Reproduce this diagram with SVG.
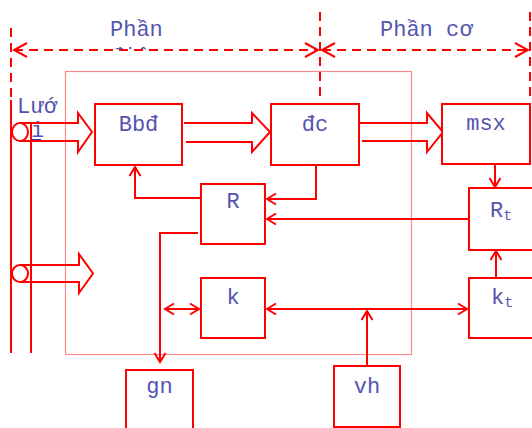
<svg xmlns="http://www.w3.org/2000/svg" width="532" height="428" viewBox="0 0 532 428">
  <style>
    .box { fill: #ffffff; stroke: #ff0000; stroke-width: 2; }
    .ln { fill: none; stroke: #ff0000; stroke-width: 2; }
    .dash { fill: none; stroke: #ff0000; stroke-width: 2; stroke-dasharray: 9 6; }
    .frame { fill: none; stroke: #ff8a8a; stroke-width: 1.2; }
    .blk { fill: none; stroke: #ff0000; stroke-width: 2; stroke-linejoin: miter; }
    .t { font-family: "Liberation Mono", "Courier New", monospace; font-size: 22px; fill: #5555b0; }
    .c { text-anchor: middle; }
    .sub { font-size: 15px; }
  </style>
  <defs>
    <marker id="ah" markerUnits="userSpaceOnUse" markerWidth="12" markerHeight="14" viewBox="0 0 12 14" refX="10" refY="7" orient="auto-start-reverse">
      <path d="M1,1.5 L10,7 L1,12.5" fill="none" stroke="#ff0000" stroke-width="2"/>
    </marker>
    <marker id="dh" markerUnits="userSpaceOnUse" markerWidth="16" markerHeight="18" viewBox="0 0 16 18" refX="14" refY="9" orient="auto-start-reverse">
      <path d="M1,2 L14,9 L1,16" fill="none" stroke="#ff0000" stroke-width="2"/>
    </marker>
    <clipPath id="cutline">
      <rect x="100" y="40" width="80" height="9.5"/>
    </clipPath>
  </defs>

  <!-- section boundaries and headings -->
  <g id="sections">
    <line class="dash" x1="11" y1="28" x2="11" y2="100"/>
    <line class="dash" x1="320" y1="12" x2="320" y2="100"/>
    <line class="dash" x1="530" y1="12" x2="530" y2="100"/>
    <line class="dash" x1="14" y1="50" x2="318" y2="50" marker-start="url(#dh)" marker-end="url(#dh)"/>
    <line class="dash" x1="322" y1="50" x2="528" y2="50" marker-start="url(#dh)" marker-end="url(#dh)"/>
    <text class="t" x="110" y="36">Phần</text>
    <text class="t" x="110" y="63" clip-path="url(#cutline)">điện</text>
    <text class="t" x="380" y="36">Phần cơ</text>
  </g>

  <!-- enclosing frame of the electrical part -->
  <rect class="frame" x="65.5" y="71.5" width="346" height="283"/>

  <!-- supply lines -->
  <g id="luoi">
    <line class="ln" x1="11" y1="100" x2="11" y2="353"/>
    <line class="ln" x1="31" y1="123" x2="31" y2="353"/>
    <ellipse class="ln" cx="20" cy="132" rx="8" ry="9"/>
    <ellipse class="ln" cx="20" cy="273.5" rx="8" ry="8.5"/>
    <text class="t" x="17" y="113">Lướ</text>
    <text class="t" x="31" y="137">i</text>
    <line x1="32" y1="139.5" x2="41" y2="139.5" stroke="#3030a0" stroke-width="1"/>
  </g>

  <!-- power flow (hollow arrows) -->
  <g id="power">
    <path class="blk" d="M20,123 H78 V113 L92,132 L78,152 V141 H20"/>
    <path class="blk" d="M20,265 H79 V254 L93,273.5 L79,293 V282 H20"/>
    <path class="blk" d="M184,123 H252 V113 L270,132 L252,152 V142 H186"/>
    <path class="blk" d="M360,123 H427 V113 L443,132 L427,152 V141 H362"/>
  </g>

  <g id="Bbd">
    <rect class="box" x="95" y="104" width="87" height="61"/>
    <text class="t c" x="138.5" y="131">Bbđ</text>
  </g>
  <g id="dc">
    <rect class="box" x="271" y="104" width="88" height="61"/>
    <text class="t c" x="315" y="131">đc</text>
  </g>
  <g id="msx">
    <rect class="box" x="442" y="104" width="88" height="60"/>
    <text class="t c" x="486" y="130">msx</text>
  </g>
  <g id="R">
    <rect class="box" x="201" y="184" width="64" height="60"/>
    <text class="t c" x="233" y="208">R</text>
  </g>
  <g id="k">
    <rect class="box" x="201" y="278" width="64" height="60"/>
    <text class="t c" x="233" y="304">k</text>
  </g>
  <g id="Rt">
    <rect class="box" x="469" y="188" width="70" height="62"/>
    <text class="t" x="490" y="217">R<tspan class="sub" dy="3">t</tspan></text>
  </g>
  <g id="kt">
    <rect class="box" x="469" y="278" width="70" height="60"/>
    <text class="t" x="491" y="304">k<tspan class="sub" dy="3">t</tspan></text>
  </g>
  <g id="gn">
    <rect class="box" x="126" y="370" width="67" height="70"/>
    <text class="t c" x="159.5" y="393">gn</text>
  </g>
  <g id="vh">
    <rect class="box" x="334" y="366" width="66" height="61"/>
    <text class="t c" x="367" y="393">vh</text>
  </g>

  <!-- signal connectors -->
  <g id="connectors">
    <polyline class="ln" points="201,198 135,198 135,167" marker-end="url(#ah)"/>
    <polyline class="ln" points="316,165 316,199 267,199" marker-end="url(#ah)"/>
    <line class="ln" x1="469" y1="219" x2="267" y2="219" marker-end="url(#ah)"/>
    <line class="ln" x1="495" y1="164" x2="495" y2="187" marker-end="url(#ah)"/>
    <line class="ln" x1="496" y1="278" x2="496" y2="251" marker-end="url(#ah)"/>
    <line class="ln" x1="267" y1="309" x2="467" y2="309" marker-start="url(#ah)" marker-end="url(#ah)"/>
    <line class="ln" x1="367" y1="366" x2="367" y2="311" marker-end="url(#ah)"/>
    <line class="ln" x1="165" y1="309" x2="199" y2="309" marker-start="url(#ah)" marker-end="url(#ah)"/>
    <polyline class="ln" points="198,233 160,233 160,362" marker-end="url(#ah)"/>
  </g>
</svg>
